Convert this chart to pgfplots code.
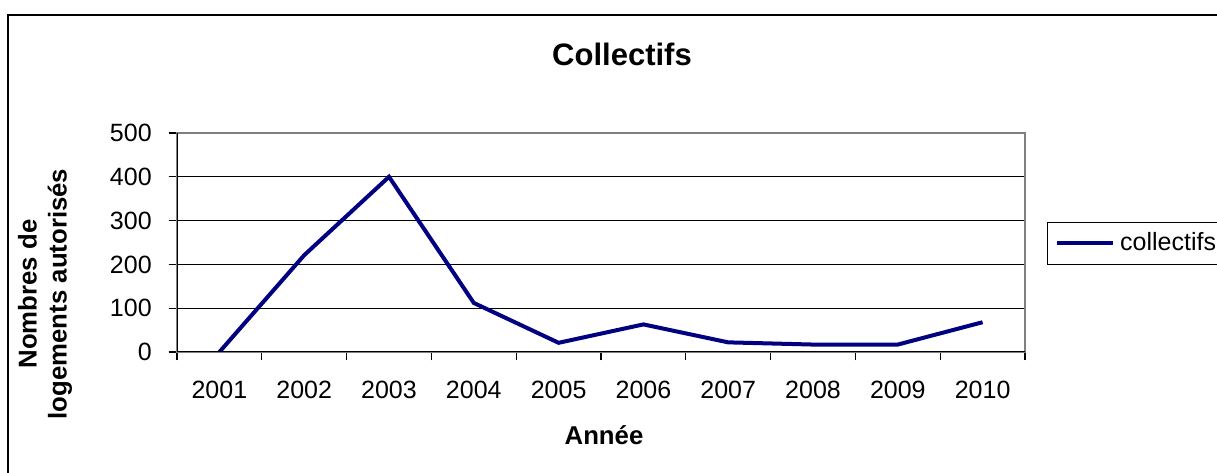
\documentclass[border=0pt]{standalone}
\usepackage{pgfplots}
\pgfplotsset{compat=1.18}
\usepackage{fontspec}
\setmainfont{Liberation Sans}
\definecolor{serie}{HTML}{000080}
\definecolor{cadre}{HTML}{808080}
\begin{document}
\begin{tikzpicture}
% one pixel of the reference = 0.4pt
\useasboundingbox (0,0) rectangle (486.8pt,-189.2pt);
\draw[line width=0.6pt] (3.2pt,-6pt) rectangle (520pt,-220pt);
\node[anchor=base, font=\bfseries\fontsize{12.4}{14}\selectfont] at (248.8pt,-26.4pt) {Collectifs};
\node[anchor=base, font=\bfseries\fontsize{10.3}{12}\selectfont] at (241.6pt,-178pt) {Année};
\node[rotate=90, align=center, font=\bfseries\fontsize{10.3}{12}\selectfont] at (18pt,-117.6pt) {Nombres de\\logements autorisés};
\begin{axis}[
  at={(70.8pt,-140.8pt)}, anchor=south west,
  scale only axis, width=339.2pt, height=87.6pt,
  xmin=-0.5, xmax=9.5, ymin=0, ymax=500,
  xtick={0,...,9},
  xticklabels={2001,2002,2003,2004,2005,2006,2007,2008,2009,2010},
  minor xtick={-0.5,0.5,...,9.5},
  major x tick style={draw=none},
  ytick={0,100,...,500},
  xtick pos=bottom, ytick pos=left,
  tick align=outside,
  major tick length=3.4pt, minor tick length=3.4pt,
  tick style={black, line width=0.5pt},
  ymajorgrids,
  major grid style={black, line width=0.5pt},
  axis line style={cadre, line width=0.6pt},
  tick label style={font=\fontsize{10}{12}\selectfont},
  xticklabel style={yshift=-4.8pt},
  yticklabel style={xshift=-3.2pt},
  /pgf/number format/assume math mode=true,
  legend style={at={(1.026,0.594)}, anchor=north west, draw=black, line width=0.5pt,
    font=\fontsize{10}{12}\selectfont, inner xsep=3pt, inner ysep=2pt},
  legend image code/.code={\draw[#1] (0pt,0pt) -- (22.4pt,0pt);},
  legend cell align=left,
]
\addplot[serie, line width=1.6pt, no markers] coordinates {
  (0,0) (1,221) (2,400) (3,112) (4,21) (5,63) (6,22) (7,17) (8,17) (9,68)
};
\addlegendentry{collectifs}
\draw[black, line width=0.6pt] (rel axis cs:0,1) -- (rel axis cs:0,0) -- (rel axis cs:1,0);
\end{axis}
\end{tikzpicture}
\end{document}
